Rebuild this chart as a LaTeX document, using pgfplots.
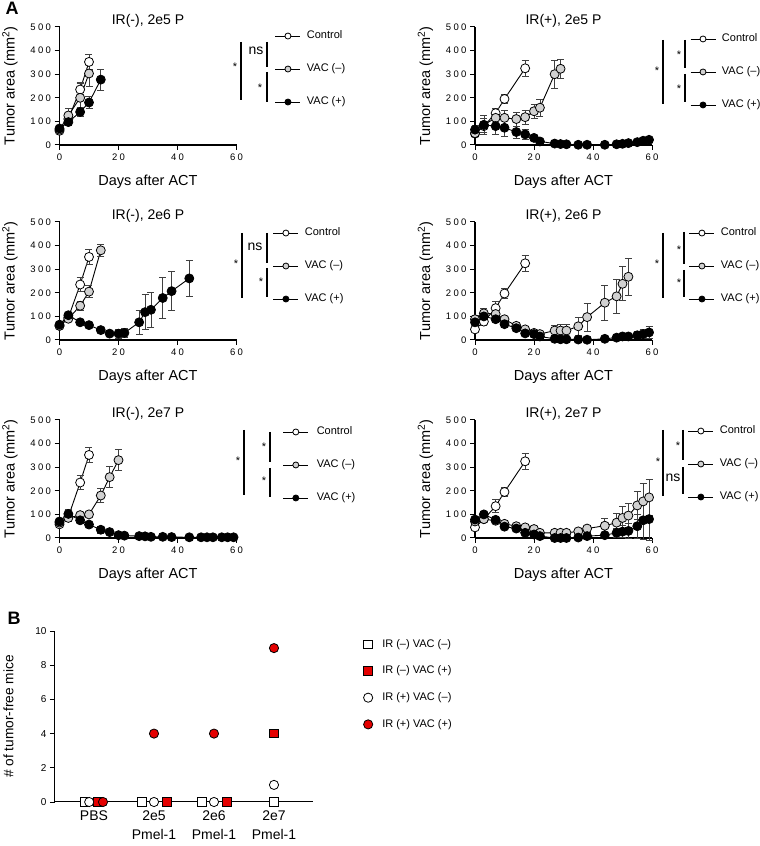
\documentclass[border=0pt]{standalone}
\usepackage{pgfplots}
\pgfplotsset{compat=1.18}
\usepackage{fontspec}
\setmainfont{Liberation Sans}
\newfontfamily\tickfont[LetterSpace=25]{Liberation Sans}
\definecolor{vacgray}{gray}{0.82}
\definecolor{bred}{RGB}{228,0,0}

\pgfplotsset{
  tumor/.style={
    scale only axis, width=177pt, height=118pt,
    xmin=0, xmax=60, ymin=0, ymax=500, clip=false,
    axis x line*=bottom, axis y line*=left,
    axis line style={line width=1.2pt},
    xtick={0,20,40,60}, ytick={0,100,...,500},
    tick align=outside, major tick length=5pt,
    tick style={black, line width=1pt},
    /pgf/number format/assume math mode=true,
    ticklabel style={font=\tickfont\fontsize{9.5}{11}\selectfont},
    xlabel={Days after ACT},
    ylabel={Tumor area (mm\textsuperscript{2})},
    label style={font=\fontsize{14.5}{16}\selectfont},
    xlabel style={at={(axis description cs:0.5,-0.31)}, anchor=center},
    ylabel style={at={(axis description cs:-0.28,0.5)}, anchor=center},
    title style={at={(axis description cs:0.5,1)}, anchor=center, font=\fontsize{14}{16}\selectfont},
    legend cell align=left,
    legend style={draw=none, fill=none, inner sep=0pt, outer sep=0pt, anchor=north west,
      font=\fontsize{11}{13}\selectfont, row sep=22.5pt, column sep=6pt,
      nodes={inner sep=0pt, text height=8pt, text depth=2.5pt}},
    legend image code/.code={\draw[mark repeat=2,mark phase=2,#1,mark size=3pt] plot coordinates {(0pt,0pt) (12.5pt,0pt) (25pt,0pt)};},
  },
  ctrl/.style={black, line width=0.9pt, mark=*, mark size=4.5pt,
    mark options={fill=white, draw=black, line width=0.8pt},
    error bars/y dir=both, error bars/y explicit,
    error bars/error bar style={black!75, line width=0.7pt},
    error bars/error mark options={rotate=90, mark size=3.5pt, black!75, line width=0.7pt}},
  vneg/.style={ctrl, mark options={fill=vacgray, draw=black, line width=0.8pt}},
  vpos/.style={ctrl, mark options={fill=black, draw=black, line width=0.8pt}},
}

\begin{document}
\begin{tikzpicture}
\path[use as bounding box] (0,0) rectangle (760pt,846pt);

% ---- row 1 left: IR(-), 2e5 P
\begin{axis}[tumor, at={(59.5pt,701pt)}, anchor=south west, title={IR(-), 2e5 P},
  legend style={at={(axis description cs:1.2175,0.968)}}]
\addplot[ctrl] coordinates {(0,60)+-(0,12) (3,110)+-(0,15) (7,235)+-(0,30) (10,352)+-(0,32)};
\addlegendentry{Control}
\addplot[vneg] coordinates {(0,65)+-(0,10) (3,125)+-(0,30) (7,200)+-(0,60) (10,303)+-(0,55)};
\addlegendentry{VAC (–)}
\addplot[vpos] coordinates {(0,70)+-(0,10) (3,97)+-(0,12) (7,140)+-(0,20) (10,180)+-(0,25) (14,277)+-(0,45)};
\addlegendentry{VAC (+)}
\end{axis}

% ---- row 1 right: IR(+), 2e5 P
\begin{axis}[tumor, at={(475pt,701pt)}, anchor=south west, title={IR(+), 2e5 P},
  legend style={at={(axis description cs:1.215,0.943)}}]
\addplot[ctrl] coordinates {(0,48)+-(0,10) (3,80)+-(0,15) (7,135)+-(0,20) (10,195)+-(0,20) (17,325)+-(0,35)};
\addlegendentry{Control}
\addplot[vneg] coordinates {(0,50)+-(0,10) (3,85)+-(0,40) (7,115)+-(0,25) (10,115)+-(0,30) (14,110)+-(0,30) (17,118)+-(0,30) (20,143)+-(0,28) (22,158)+-(0,35) (27,300)+-(0,60) (29,323)+-(0,40)};
\addlegendentry{VAC (–)}
\addplot[vpos] coordinates {(0,65)+-(0,20) (3,85)+-(0,30) (7,80)+-(0,35) (10,73)+-(0,35) (14,55)+-(0,25) (17,45)+-(0,20) (20,30)+-(0,8) (22,15)+-(0,8) (27,6)+-(0,4) (29,4)+-(0,3) (31,3)+-(0,3) (35,1)+-(0,2) (38,1)+-(0,2) (44,1)+-(0,2) (48,3)+-(0,2) (50,5)+-(0,3) (52,8)+-(0,3) (55,12)+-(0,4) (57,18)+-(0,5) (59,22)+-(0,6)};
\addlegendentry{VAC (+)}
\end{axis}

% ---- row 2 left: IR(-), 2e6 P
\begin{axis}[tumor, at={(59.5pt,506pt)}, anchor=south west, title={IR(-), 2e6 P},
  legend style={at={(axis description cs:1.206,0.951)}}]
\addplot[ctrl] coordinates {(0,60)+-(0,8) (3,95)+-(0,15) (7,235)+-(0,30) (10,352)+-(0,30)};
\addlegendentry{Control}
\addplot[vneg] coordinates {(0,60)+-(0,8) (3,90)+-(0,12) (7,145)+-(0,20) (10,205)+-(0,25) (14,380)+-(0,25)};
\addlegendentry{VAC (–)}
\addplot[vpos] coordinates {(0,65)+-(0,8) (3,105)+-(0,12) (7,75)+-(0,8) (10,63)+-(0,8) (14,42)+-(0,8) (17,27)+-(0,8) (20,27)+-(0,18) (22,30)+-(0,20) (27,75)+-(0,50) (29,118)+-(0,75) (31,128)+-(0,75) (35,178)+-(0,87) (38,207)+-(0,82) (44,261)+-(0,78)};
\addlegendentry{VAC (+)}
\end{axis}

% ---- row 2 right: IR(+), 2e6 P
\begin{axis}[tumor, at={(475pt,506pt)}, anchor=south west, title={IR(+), 2e6 P},
  legend style={at={(axis description cs:1.209,0.951)}}]
\addplot[ctrl] coordinates {(0,45)+-(0,10) (3,78)+-(0,15) (7,135)+-(0,28) (10,197)+-(0,20) (17,325)+-(0,35)};
\addlegendentry{Control}
\addplot[vneg] coordinates {(0,88)+-(0,15) (3,113)+-(0,20) (7,110)+-(0,15) (10,88)+-(0,12) (14,60)+-(0,10) (17,45)+-(0,10) (20,30)+-(0,8) (22,25)+-(0,8) (27,40)+-(0,22) (29,40)+-(0,28) (31,40)+-(0,28) (35,58)+-(0,40) (38,97)+-(0,60) (44,158)+-(0,75) (48,185)+-(0,72) (50,238)+-(0,72) (52,268)+-(0,80)};
\addlegendentry{VAC (–)}
\addplot[vpos] coordinates {(0,75)+-(0,15) (3,100)+-(0,15) (7,88)+-(0,10) (10,67)+-(0,10) (14,50)+-(0,10) (17,28)+-(0,8) (20,25)+-(0,6) (22,15)+-(0,5) (27,5)+-(0,3) (29,3)+-(0,3) (31,3)+-(0,3) (35,2)+-(0,2) (38,1)+-(0,2) (44,5)+-(0,3) (48,10)+-(0,5) (50,15)+-(0,8) (52,15)+-(0,8) (55,20)+-(0,15) (57,25)+-(0,20) (59,32)+-(0,25)};
\addlegendentry{VAC (+)}
\end{axis}

% ---- row 3 left: IR(-), 2e7 P
\begin{axis}[tumor, at={(59.5pt,308pt)}, anchor=south west, title={IR(-), 2e7 P},
  legend style={at={(axis description cs:1.262,0.943)}, column sep=8pt}]
\addplot[ctrl] coordinates {(0,58)+-(0,8) (3,90)+-(0,15) (7,235)+-(0,30) (10,352)+-(0,32)};
\addlegendentry{Control}
\addplot[vneg] coordinates {(0,65)+-(0,8) (3,85)+-(0,15) (7,97)+-(0,10) (10,100)+-(0,10) (14,180)+-(0,30) (17,258)+-(0,45) (20,330)+-(0,45)};
\addlegendentry{VAC (–)}
\addplot[vpos] coordinates {(0,70)+-(0,8) (3,102)+-(0,18) (7,75)+-(0,12) (10,57)+-(0,8) (14,35)+-(0,15) (17,25)+-(0,8) (20,12)+-(0,5) (22,10)+-(0,5) (27,8)+-(0,3) (29,7)+-(0,2) (31,5)+-(0,2) (35,5)+-(0,2) (38,4)+-(0,2) (44,3)+-(0,2) (48,3)+-(0,2) (50,3)+-(0,2) (52,3)+-(0,2) (55,3)+-(0,2) (57,3)+-(0,2) (59,3)+-(0,2)};
\addlegendentry{VAC (+)}
\end{axis}

% ---- row 3 right: IR(+), 2e7 P
\begin{axis}[tumor, at={(475pt,308pt)}, anchor=south west, title={IR(+), 2e7 P},
  legend style={at={(axis description cs:1.203,0.951)}}]
\addplot[ctrl] coordinates {(0,45)+-(0,10) (3,80)+-(0,15) (7,135)+-(0,28) (10,195)+-(0,20) (17,325)+-(0,35)};
\addlegendentry{Control}
\addplot[vneg] coordinates {(0,70)+-(0,10) (3,80)+-(0,12) (7,73)+-(0,10) (10,60)+-(0,8) (14,50)+-(0,8) (17,45)+-(0,8) (20,38)+-(0,8) (22,22)+-(0,6) (27,22)+-(0,6) (29,22)+-(0,6) (31,22)+-(0,6) (35,28)+-(0,8) (38,40)+-(0,15) (44,52)+-(0,30) (48,65)+-(0,40) (50,85)+-(0,50) (52,95)+-(0,50) (55,138)+-(0,60) (57,155)+-(0,75) (59,172)+-(0,77)};
\addlegendentry{VAC (–)}
\addplot[vpos] coordinates {(0,78)+-(0,10) (3,100)+-(0,15) (7,77)+-(0,8) (10,48)+-(0,8) (14,40)+-(0,8) (17,22)+-(0,6) (20,15)+-(0,5) (22,8)+-(0,4) (27,0)+-(0,2) (29,0)+-(0,2) (31,0)+-(0,2) (35,2)+-(0,2) (38,8)+-(0,4) (44,12)+-(0,6) (48,22)+-(0,20) (50,27)+-(0,25) (52,30)+-(0,30) (55,50)+-(0,50) (57,75)+-(0,80) (59,80)+-(0,90)};
\addlegendentry{VAC (+)}
\end{axis}

% ---- panel B
\begin{axis}[scale only axis, width=258pt, height=171pt, at={(55pt,44pt)}, anchor=south west,
  xmin=-0.65, xmax=3.65, ymin=0, ymax=10, clip=false,
  axis x line*=bottom, axis y line*=left, axis line style={line width=1pt},
  xtick={0,1,2,3}, xticklabels={PBS,2e5\\Pmel-1,2e6\\Pmel-1,2e7\\Pmel-1},
  xticklabel style={align=center, font=\fontsize{14}{19}\selectfont},
  ytick={0,2,...,10},
  /pgf/number format/assume math mode=true,
  yticklabel style={font=\fontsize{10}{12}\selectfont},
  tick align=outside, major tick length=5pt, tick style={black, line width=0.8pt},
  ylabel={\# of tumor-free mice},
  ylabel style={at={(axis description cs:-0.18,0.5)}, anchor=center, font=\fontsize{13.7}{15}\selectfont},
  legend cell align=left,
  legend style={draw=none, fill=none, inner sep=0pt, outer sep=0pt, anchor=north west,
    at={(axis description cs:1.196,0.953)},
    font=\fontsize{11}{13}\selectfont, row sep=16.2pt, column sep=9.5pt,
    nodes={inner sep=0pt, text height=8pt, text depth=2.5pt}},
  legend image code/.code={\draw[#1] plot coordinates {(0pt,0pt)};},
]
\addplot[only marks, mark=square*, mark size=4.3pt, mark options={fill=white, draw=black, line width=0.8pt}]
  coordinates {(-0.15,0) (0.8,0) (1.8,0) (3,0)};
\addlegendentry{IR (–) VAC (–)}
\addplot[only marks, mark=square*, mark size=4.3pt, mark options={fill=bred, draw=black, line width=0.8pt}]
  coordinates {(0.07,0) (1.22,0) (2.22,0) (3,4)};
\addlegendentry{IR (–) VAC (+)}
\addplot[only marks, mark=*, mark size=4.6pt, mark options={fill=white, draw=black, line width=0.8pt}]
  coordinates {(-0.08,0) (1,0) (2,0) (3,1)};
\addlegendentry{IR (+) VAC (–)}
\addplot[only marks, mark=*, mark size=4.6pt, mark options={fill=bred, draw=black, line width=0.8pt}]
  coordinates {(0.15,0) (1,4) (2,4) (3,9)};
\addlegendentry{IR (+) VAC (+)}
\end{axis}

% ---- significance brackets and panel letters (pixel coordinates, y down)
\begin{scope}[x=1pt, y=-1pt, yshift=846pt, line width=1.5pt]
\tikzset{st/.style={font=\fontsize{11}{13}\selectfont, inner sep=0pt},
         ns/.style={font=\fontsize{14}{16}\selectfont, inner sep=0pt}}
\node[font=\bfseries\fontsize{18}{20}\selectfont] at (12,8) {A};
\node[font=\bfseries\fontsize{18}{20}\selectfont] at (14,618) {B};
% L1
\draw (241,42) -- (241,100); \node[st] at (235,67) {*};
\draw (267,42) -- (267,67);  \node[ns] at (256,51) {ns};
\draw (267,72) -- (267,102); \node[st] at (260,88) {*};
% L2
\draw (242,233) -- (242,298); \node[st] at (236,264) {*};
\draw (267,233) -- (267,263); \node[ns] at (255,247) {ns};
\draw (267,268) -- (267,297); \node[st] at (261,282) {*};
% L3
\draw (244,430) -- (244,495); \node[st] at (238,461) {*};
\draw (270,432) -- (270,462); \node[st] at (264,447) {*};
\draw (270,468) -- (270,497); \node[st] at (264,481) {*};
% R1
\draw (663,40) -- (663,104); \node[st] at (657,71) {*};
\draw (685,40) -- (685,68);  \node[st] at (679,55) {*};
\draw (685,74) -- (685,102); \node[st] at (679,89) {*};
% R2
\draw (663,233) -- (663,298); \node[st] at (657,264) {*};
\draw (684,232) -- (684,264); \node[st] at (679,250) {*};
\draw (684,270) -- (684,297); \node[st] at (679,283) {*};
% R3
\draw (663,430) -- (663,496); \node[st] at (658,462) {*};
\draw (683,430) -- (683,460); \node[st] at (678,446) {*};
\draw (683,467) -- (683,494); \node[ns] at (673,478) {ns};
\end{scope}
\end{tikzpicture}
\end{document}
